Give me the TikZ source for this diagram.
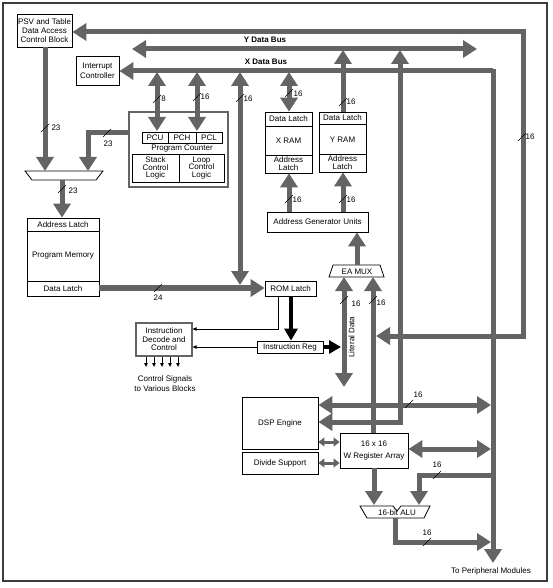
\documentclass[tikz,border=0pt]{standalone}
\usepackage{fontspec}
\setmainfont{Liberation Sans}
\usetikzlibrary{arrows.meta}
\definecolor{busgray}{RGB}{100,100,100}
\definecolor{framegray}{RGB}{60,60,60}
\begin{document}
\begin{tikzpicture}[x=1pt,y=-1pt,
  every node/.style={font=\fontsize{8}{9}\selectfont, inner sep=0pt, text=black},
  box/.style={draw=black, line width=0.8pt, align=center, fill=white},
  graybox/.style={draw=busgray, line width=1.4pt},
  bus/.style={draw=busgray, line width=5pt},
  busarr/.style={bus,-{Triangle[length=14pt,width=17pt]}},
  busdbl/.style={bus,{Triangle[length=14pt,width=17pt]}-{Triangle[length=14pt,width=17pt]}},
  smalldbl/.style={draw=busgray, line width=3pt,{Triangle[length=6pt,width=9pt]}-{Triangle[length=6pt,width=9pt]}},
  blackarr/.style={draw=black, line width=3.5pt,-{Triangle[length=12pt,width=13pt]}},
  thinarr/.style={draw=black, line width=0.8pt,-{Triangle[length=4pt,width=3.5pt]}},
  slashmark/.style={draw=black, line width=0.6pt},
  lbl/.style={font=\fontsize{8}{9}\selectfont},
  tight/.style={font=\fontsize{8}{7.5}\selectfont}
]
\useasboundingbox (0,0) rectangle (553,588);
\draw[draw=framegray, line width=1.2pt] (3,3) rectangle (547,581);

% ---------- boxes ----------
\node[box, minimum width=55pt, minimum height=33pt] (psv) at (44.5,30.5) {PSV and Table\\Data Access\\Control Block};
\node[box, minimum width=43pt, minimum height=29pt, font=\fontsize{8}{10}\selectfont] (intc) at (97.5,70.5) {Interrupt\\Controller};

% program counter block
\node[graybox, minimum width=99pt, minimum height=75pt] (pc) at (178.5,149.5) {};
\node[box, minimum width=26pt, minimum height=11pt] (pcu) at (155,137.5) {PCU};
\node[box, minimum width=28pt, minimum height=11pt] (pch) at (182,137.5) {PCH};
\node[box, minimum width=26pt, minimum height=11pt] (pcl) at (209,137.5) {PCL};
\node[lbl] (pclabel) at (182,149) {Program Counter};
\node[box, tight, minimum width=47pt, minimum height=28pt] (stack) at (155.5,168) {Stack\\Control\\Logic};
\node[box, tight, minimum width=45pt, minimum height=28pt] (loop) at (201.5,168) {Loop\\Control\\Logic};

% address mux
\draw[black, line width=0.8pt, fill=white] (25,171) -- (103,171) -- (96,180) -- (32,180) -- cycle;
\coordinate (mux) at (64,175.5);

% program memory
\node[box, minimum width=72pt, minimum height=78pt] (pmem) at (63,257) {};
\draw[black, line width=0.8pt] (pmem.west |- 0,231) -- (pmem.east |- 0,231);
\draw[black, line width=0.8pt] (pmem.west |- 0,281) -- (pmem.east |- 0,281);
\node[lbl] at (63,224.5) {Address Latch};
\node[lbl] at (63,256) {Program Memory};
\node[lbl] at (63,288.5) {Data Latch};

% X RAM
\node[box, minimum width=47pt, minimum height=61pt] (xram) at (288.5,142.5) {};
\draw[black, line width=0.8pt] (xram.west |- 0,126) -- (xram.east |- 0,126);
\draw[black, line width=0.8pt] (xram.west |- 0,155) -- (xram.east |- 0,155);
\node[lbl] at (288.5,119) {Data Latch};
\node[lbl] at (288.5,140.5) {X RAM};
\node[lbl, align=center, font=\fontsize{8}{8}\selectfont] at (288.5,164) {Address\\Latch};

% Y RAM
\node[box, minimum width=47pt, minimum height=60pt] (yram) at (342.5,142) {};
\draw[black, line width=0.8pt] (yram.west |- 0,124) -- (yram.east |- 0,124);
\draw[black, line width=0.8pt] (yram.west |- 0,154) -- (yram.east |- 0,154);
\node[lbl] at (342.5,118) {Data Latch};
\node[lbl] at (342.5,139.5) {Y RAM};
\node[lbl, align=center, font=\fontsize{8}{8}\selectfont] at (342.5,163) {Address\\Latch};

\node[box, minimum width=101pt, minimum height=20pt] (agu) at (317.5,222) {Address Generator Units};

% EA MUX
\draw[black, line width=0.8pt, fill=white] (333,265) -- (380,265) -- (384,277) -- (329,277) -- cycle;
\node[lbl] (eamux) at (357,271.5) {EA MUX};

\node[box, minimum width=51pt, minimum height=15pt] (rom) at (290.5,288.5) {ROM Latch};
\node[box, minimum width=66pt, minimum height=12pt] (ireg) at (290,347) {Instruction Reg};
\node[draw=busgray, line width=1.2pt, align=center, minimum width=56pt, minimum height=33pt, font=\fontsize{8}{8.5}\selectfont] (idec) at (164,339.5) {Instruction\\Decode and\\Control};

\node[box, minimum width=76pt, minimum height=52pt] (dsp) at (280,423) {DSP Engine};
\node[box, minimum width=76pt, minimum height=22pt] (div) at (280,463) {Divide Support};
\node[box, minimum width=68pt, minimum height=35pt, font=\fontsize{8}{12}\selectfont] (wreg) at (374,450.5) {16 x 16\\W Register Array};

% ---------- buses ----------
% PSV bus
\draw[bus, {Triangle[length=14pt,width=17pt]}-{Triangle[length=14pt,width=17pt]}] (psv.east |- 0,32) -- (523,32) -- (523,336) -- (376,336);
\draw[slashmark] (522,137) ++(-4,4) -- ++(8,-8);
\node[lbl] at (530,137) {16};

% Y data bus
\draw[busdbl] (132,49) -- (477,49);
\node[lbl, font=\bfseries\fontsize{8}{9}\selectfont] at (265,40) {Y Data Bus};

% X data bus
\draw[busarr] (493,71) -- (intc.east |- 0,71);
\draw[busarr] (493,69) -- (493,563);
\node[lbl, font=\bfseries\fontsize{8}{9}\selectfont] at (266,62) {X Data Bus};

% PCU / PCH
\draw[busdbl] (157,72) -- (157,131);
\draw[slashmark] (157,99) ++(-4,4) -- ++(8,-8);
\node[lbl] at (163.5,99) {8};
\draw[busdbl] (197,72) -- (197,131);
\draw[slashmark] (197,97) ++(-4,4) -- ++(8,-8);
\node[lbl] at (205,97) {16};

% X bus <-> program memory data
\draw[busdbl] (240,72) -- (240,285);
\draw[slashmark] (240,98) ++(-4,4) -- ++(8,-8);
\node[lbl] at (248,99) {16};

% program memory -> ROM latch
\draw[busarr, line width=5.5pt] (pmem.east |- 0,288) -- (rom.west |- 0,288);
\draw[slashmark] (158,288) ++(-4,4) -- ++(8,-8);
\node[lbl] at (158,298) {24};

% PSV -> mux
\draw[busarr] (psv.south -| 45,0) -- (45,171);
\draw[slashmark] (45,128) ++(-4,4) -- ++(8,-8);
\node[lbl] at (56,128) {23};
% PC -> mux
\draw[busarr] (pc.west |- 0,133) -- (88,133) -- (88,171);
\draw[slashmark] (107,133) ++(-4,4) -- ++(8,-8);
\node[lbl] at (108,144) {23};
% mux -> program memory
\draw[busarr] (62,180) -- (pmem.north -| 62,0);
\draw[slashmark] (62,189) ++(-4,4) -- ++(8,-8);
\node[lbl] at (73,191) {23};

% X RAM <-> X bus
\draw[busdbl] (289,72) -- (xram.north -| 289,0);
\draw[slashmark] (289,93) ++(-4,4) -- ++(8,-8);
\node[lbl] at (298,94) {16};
% Y RAM -> Y bus
\draw[busarr] (yram.north -| 343,0) -- (343,50);
\draw[slashmark] (343,102) ++(-4,4) -- ++(8,-8);
\node[lbl] at (351,102) {16};
% AGU -> RAMs
\draw[busarr] (agu.north -| 289,0) -- (xram.south -| 289,0);
\draw[slashmark] (289,199) ++(-4,4) -- ++(8,-8);
\node[lbl] at (297,200) {16};
\draw[busarr] (agu.north -| 343,0) -- (yram.south -| 343,0);
\draw[slashmark] (343,199) ++(-4,4) -- ++(8,-8);
\node[lbl] at (351,200) {16};
% EA MUX -> AGU
\draw[busarr] (357,265) -- (agu.south -| 357,0);

% literal data
\draw[busdbl] (344,277) -- (344,387);
\draw[slashmark] (344,300) ++(-4,4) -- ++(8,-8);
\node[lbl] at (356,304) {16};
\node[lbl, rotate=90] at (351.5,337) {Literal Data};

% W reg -> EA MUX
\draw[busarr] (wreg.north -| 373,0) -- (373,277);
\draw[slashmark] (373,300) ++(-4,4) -- ++(8,-8);
\node[lbl] at (381,303) {16};

% Y bus vertical -> DSP
\draw[busdbl] (dsp.east |- 0,422) -- (400,422) -- (400,50);

% DSP <-> X bus
\draw[busdbl] (dsp.east |- 0,405) -- (491,405);
\draw[slashmark] (409,404) ++(-4,4) -- ++(8,-8);
\node[lbl] at (418,395) {16};
% W reg <-> X bus
\draw[busdbl] (wreg.east |- 0,449) -- (491,449);

% ALU
\draw[black, line width=0.8pt, fill=white] (360,506) -- (393,506) -- (397,511) -- (401,506) -- (430,506) -- (424,518) -- (367,518) -- cycle;
\node[lbl] (alu) at (397,512.5) {16-bit ALU};
\draw[busarr] (493,475) -- (419,475) -- (419,505);
\draw[slashmark] (437,475) ++(-4,4) -- ++(8,-8);
\node[lbl] at (437,465) {16};
\draw[busarr] (wreg.south -| 374,0) -- (374,505);
\draw[busarr] (395,518) -- (395,542) -- (491,542);
\draw[slashmark] (427,542) ++(-4,4) -- ++(8,-8);
\node[lbl] at (427,533) {16};
\node[lbl] at (491,571) {To Peripheral Modules};

% small arrows DSP / Divide <-> W reg
\draw[smalldbl] (dsp.east |- 0,442) -- (wreg.west |- 0,442);
\draw[smalldbl] (div.east |- 0,463) -- (wreg.west |- 0,463);

% ROM latch -> Instruction Reg, Instruction Reg -> literal data
\draw[blackarr] (rom.south -| 291,0) -- (ireg.north -| 291,0);
\draw[blackarr] (ireg.east) -- (341,347);

% thin control paths
\draw[thinarr] (rom.south -| 278,0) -- (278,329) -- (idec.east |- 0,329);
\draw[thinarr] (ireg.west) -- (idec.east |- 0,347);

% control signals
\foreach \xx in {146,154,162,170,178}
  \draw[thinarr] (idec.south -| \xx,0) -- (\xx,367);
\node[lbl, align=center, font=\fontsize{8}{10}\selectfont] at (165,384) {Control Signals\\to Various Blocks};
\end{tikzpicture}
\end{document}
